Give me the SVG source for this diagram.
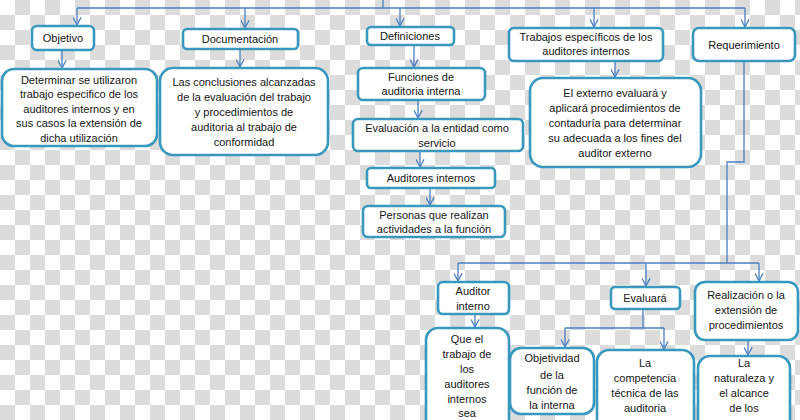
<svg xmlns="http://www.w3.org/2000/svg" width="800" height="420" viewBox="0 0 800 420">
<defs>
<pattern id="checker" width="30" height="30" patternUnits="userSpaceOnUse">
<rect width="30" height="30" fill="#ffffff"/>
<rect x="15" y="0" width="15" height="15" fill="#dcdcdc"/>
<rect x="0" y="15" width="15" height="15" fill="#dcdcdc"/>
</pattern>
<marker id="arr" viewBox="0 0 10 10" refX="9.5" refY="5" markerWidth="9" markerHeight="9" markerUnits="userSpaceOnUse" orient="auto">
<path d="M1,0.5 L9.5,5 L1,9.5" fill="none" stroke="#4a7fc0" stroke-width="1.4"/>
</marker>
<style>
.box{fill:#ffffff;stroke:#3898be;stroke-width:2.6}
.ln{fill:none;stroke:#4a7fc0;stroke-width:1.3}
.ar{fill:none;stroke:#4a7fc0;stroke-width:1.3;marker-end:url(#arr)}
text{font-family:"Liberation Sans",Arial,sans-serif;font-size:11px;fill:#151515;text-anchor:middle}
</style>
</defs>
<rect width="800" height="420" fill="url(#checker)"/>

<g id="connectors">
<path class="ln" d="M383,0 V8"/>
<path class="ln" d="M77,8 H745"/>
<path class="ar" d="M77,8 V25"/>
<path class="ar" d="M245,8 V28"/>
<path class="ar" d="M400,8 V26"/>
<path class="ar" d="M594,8 V27"/>
<path class="ar" d="M745,8 V27"/>
<path class="ar" d="M62,50 V68"/>
<path class="ar" d="M240,49 V67"/>
<path class="ar" d="M414,45 V67"/>
<path class="ar" d="M418,100 V118"/>
<path class="ar" d="M420,151 V167"/>
<path class="ar" d="M430,188 V205"/>
<path class="ar" d="M615,61 V77"/>
<path class="ln" d="M744,61 V162 H727 V263"/>
<path class="ln" d="M458,263 H759"/>
<path class="ar" d="M458,263 V281"/>
<path class="ar" d="M646,263 V286"/>
<path class="ar" d="M759,263 V281"/>
<path class="ar" d="M475,314 V327"/>
<path class="ln" d="M643,309 V328"/>
<path class="ln" d="M565,328 H664"/>
<path class="ar" d="M565,328 V347"/>
<path class="ar" d="M664,328 V349"/>
<path class="ar" d="M748,340 V355"/>
</g>

<g id="objetivo">
<rect class="box" x="32" y="26" width="62" height="24" rx="5"/>
<text x="63" y="42">Objetivo</text>
</g>
<g id="determinar">
<rect class="box" x="2" y="69" width="155" height="77" rx="12"/>
<text x="79" y="83.5">Determinar se utilizaron</text>
<text x="79" y="98">trabajo especifico de los</text>
<text x="79" y="112.5">auditores  internos  y en</text>
<text x="79" y="127">sus casos la extensión de</text>
<text x="79" y="141.5">dicha utilización</text>
</g>
<g id="documentacion">
<rect class="box" x="183" y="29" width="115" height="20" rx="4"/>
<text x="240" y="42.5">Documentación</text>
</g>
<g id="conclusiones">
<rect class="box" x="160" y="68" width="168" height="87" rx="13"/>
<text x="244" y="85.5">Las conclusiones alcanzadas</text>
<text x="244" y="100.5">de la evaluación del trabajo</text>
<text x="244" y="115.5">y procedimientos de</text>
<text x="244" y="130.5">auditoria al trabajo de</text>
<text x="244" y="145.5">conformidad</text>
</g>
<g id="definiciones">
<rect class="box" x="367" y="27" width="87" height="18" rx="4"/>
<text x="410" y="40">Definiciones</text>
</g>
<g id="funciones">
<rect class="box" x="358" y="68" width="127" height="32" rx="5"/>
<text x="421" y="80.5">Funciones de</text>
<text x="421" y="95">auditoria interna</text>
</g>
<g id="evaluacion">
<rect class="box" x="353" y="119" width="170" height="32" rx="5"/>
<text x="437" y="132">Evaluación a la entidad como</text>
<text x="437" y="146.5">servicio</text>
</g>
<g id="auditores-internos">
<rect class="box" x="367" y="168" width="128" height="20" rx="4"/>
<text x="431" y="181.5">Auditores internos</text>
</g>
<g id="personas">
<rect class="box" x="363" y="206" width="142" height="31" rx="5"/>
<text x="434" y="218.5">Personas que realizan</text>
<text x="434" y="233">actividades a la función</text>
</g>
<g id="trabajos">
<rect class="box" x="509" y="28" width="154" height="33" rx="5"/>
<text x="586" y="40.5">Trabajos específicos de los</text>
<text x="586" y="55">auditores internos</text>
</g>
<g id="externo">
<rect class="box" x="530" y="78" width="171" height="89" rx="13"/>
<text x="615" y="96.5">El externo evaluará y</text>
<text x="615" y="111.5">aplicará procedimientos de</text>
<text x="615" y="126.5">contaduría para determinar</text>
<text x="615" y="141.5">su adecuada a los fines del</text>
<text x="615" y="156.5">auditor externo</text>
</g>
<g id="requerimiento">
<rect class="box" x="693" y="28" width="102" height="33" rx="6"/>
<text x="744" y="48.5">Requerimiento</text>
</g>
<g id="auditor-interno">
<rect class="box" x="438" y="282" width="71" height="32" rx="5"/>
<text x="473" y="295">Auditor</text>
<text x="473" y="309.5">interno</text>
</g>
<g id="que-el">
<rect class="box" x="426" y="328" width="83" height="110" rx="12"/>
<text x="467" y="343">Que el</text>
<text x="467" y="357.5">trabajo de</text>
<text x="467" y="372.5">los</text>
<text x="467" y="387.5">auditores</text>
<text x="467" y="402.5">internos</text>
<text x="467" y="417">sea</text>
</g>
<g id="evaluara">
<rect class="box" x="611" y="287" width="69" height="22" rx="4"/>
<text x="645" y="302">Evaluará</text>
</g>
<g id="objetividad">
<rect class="box" x="510" y="348" width="84" height="66" rx="11"/>
<text x="552" y="362">Objetividad</text>
<text x="552" y="379">de la</text>
<text x="552" y="394">función de</text>
<text x="552" y="409">la interna</text>
</g>
<g id="competencia">
<rect class="box" x="597" y="350" width="97" height="90" rx="12"/>
<text x="645" y="367">La</text>
<text x="645" y="382">competencia</text>
<text x="645" y="397">técnica de las</text>
<text x="645" y="412">auditoria</text>
</g>
<g id="realizacion">
<rect class="box" x="695" y="282" width="103" height="58" rx="10"/>
<text x="746" y="299">Realización o la</text>
<text x="746" y="314">extensión de</text>
<text x="746" y="329">procedimientos</text>
</g>
<g id="naturaleza">
<rect class="box" x="698" y="356" width="92" height="84" rx="12"/>
<text x="744" y="367">La</text>
<text x="744" y="382">naturaleza y</text>
<text x="744" y="397">el alcance</text>
<text x="744" y="412">de los</text>
</g>
</svg>
